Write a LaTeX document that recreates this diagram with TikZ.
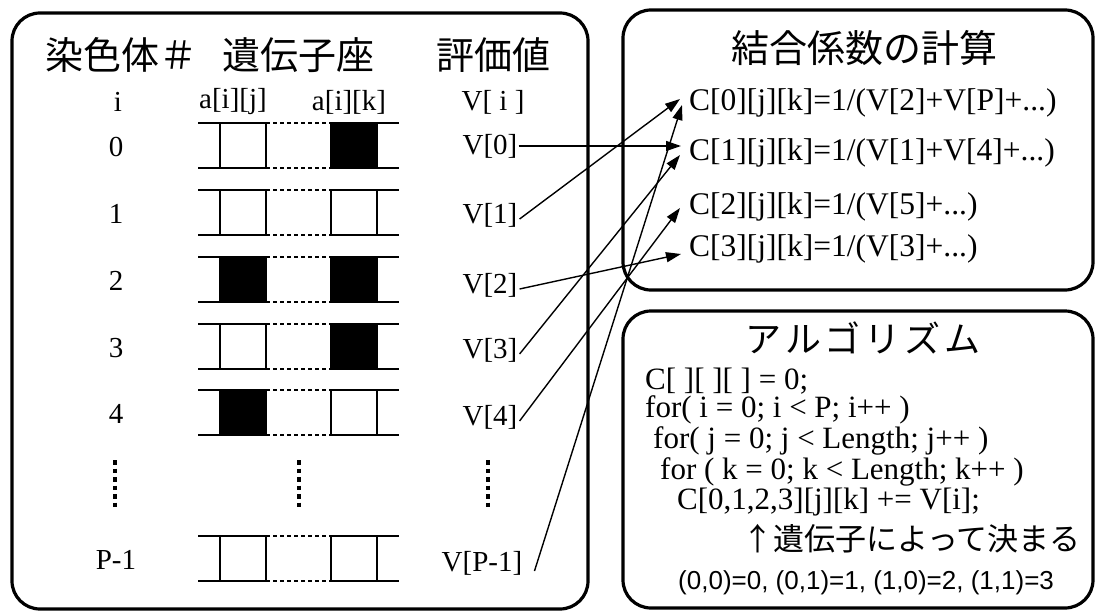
\documentclass[tikz,border=0pt]{standalone}
\usepackage{fontspec}
\setmainfont{Liberation Serif}
\newfontfamily\jp{Noto Sans CJK JP}
\newfontfamily\sansf{Liberation Sans}
\usetikzlibrary{arrows.meta}
\begin{document}
\begin{tikzpicture}[x=1pt,y=-1pt,
  panel/.style={draw, line width=3.2pt, rounded corners=28pt},
  num/.style={inner sep=0pt, font=\fontsize{29}{29}\selectfont},
  ctext/.style={inner sep=0pt, anchor=west, font=\fontsize{31.5}{31.5}\selectfont},
  code/.style={inner sep=0pt, anchor=west, font=\fontsize{31}{31}\selectfont},
  title/.style={inner sep=0pt, font=\jp\fontsize{38}{38}\selectfont},
  rowline/.style={line width=1.6pt},
  dotline/.style={line width=1.6pt, dash pattern=on 4pt off 3pt},
  vdots/.style={line width=4.5pt, dash pattern=on 4.5pt off 4pt},
  arr/.style={line width=1.4pt, -{Triangle[length=15pt,width=10pt]}}
]
\useasboundingbox (0,0) rectangle (1096,613);
% panels
\draw[panel] (12,13) rectangle (588,609);
\draw[panel] (623,10) rectangle (1093,290);
\draw[panel] (623,311) rectangle (1093,608);

% left titles
\node[title, anchor=west] (t1) at (45,55) {染色体＃};
\node[title, anchor=west] (t2) at (222,55) {遺伝子座};
\node[title] (t3) at (493,55) {評価値};

% column labels
\node[num] (hi) at (118,102) {i};
\node[num] (haj) at (233,102) {a[i][j]};
\node[num] (hak) at (349,102) {a[i][k]};
\node[num] (hv) at (493,102) {V[ i ]};

% chromosome rows: y / fill j / fill k / label
\foreach \y/\fj/\fk/\lab in {123/0/1/0, 190/0/0/1, 257/1/1/2, 324/0/1/3, 390/1/0/4, 536/0/0/P-1}{
  \pgfmathsetmacro{\yb}{\y+45}
  \ifnum\fj=1 \fill (220,\y) rectangle (266,\yb); \fi
  \ifnum\fk=1 \fill (331,\y) rectangle (377,\yb); \fi
  \draw[rowline] (198,\y) -- (266,\y) (331,\y) -- (399,\y)
                 (198,\yb) -- (266,\yb) (331,\yb) -- (399,\yb)
                 (220,\y) -- (220,\yb) (266,\y) -- (266,\yb)
                 (331,\y) -- (331,\yb) (377,\y) -- (377,\yb);
  \draw[dotline] (266,\y) -- (331,\y) (266,\yb) -- (331,\yb);
  \node[num] at (116,\y+24) {\lab};
}
% vertical ellipses
\draw[vdots] (115,460) -- (115,510);
\draw[vdots] (299,460) -- (299,510);
\draw[vdots] (488,460) -- (488,510);

% V labels
\node[num] (v0) at (490,146) {V[0]};
\node[num] (v1) at (490,215) {V[1]};
\node[num] (v2) at (490,285) {V[2]};
\node[num] (v3) at (490,350) {V[3]};
\node[num] (v4) at (490,417) {V[4]};
\node[num] (vp) at (482,563) {V[P-1]};

% right top panel
\node[title] (t4) at (864,48) {結合係数の計算};
\node[ctext] (c0) at (689,103) {C[0][j][k]=1/(V[2]+V[P]+...)};
\node[ctext] (c1) at (689,153) {C[1][j][k]=1/(V[1]+V[4]+...)};
\node[ctext] (c2) at (689,207) {C[2][j][k]=1/(V[5]+...)};
\node[ctext] (c3) at (689,249) {C[3][j][k]=1/(V[3]+...)};

% arrows
\coordinate (a0) at (681,146);
\coordinate (a1) at (680,99);
\coordinate (a2) at (681,254);
\coordinate (a3) at (680,155);
\coordinate (a4) at (680,208);
\coordinate (ap) at (682,105);
\draw[arr] ([xshift=1pt]v0.east) -- (a0);
\draw[arr] ([xshift=2pt,yshift=-4pt]v1.east) -- (a1);
\draw[arr] ([xshift=2pt,yshift=-4pt]v2.east) -- (a2);
\draw[arr] ([xshift=2pt,yshift=-4pt]v3.east) -- (a3);
\draw[arr] ([xshift=2pt,yshift=-4pt]v4.east) -- (a4);
\draw[arr] ([xshift=12pt,yshift=-8pt]vp.east) -- (ap);

% right bottom panel
\node[title, font=\jp\fontsize{36}{36}\selectfont] (t5) at (863,338) {ア\hspace{4pt}ル\hspace{4pt}ゴ\hspace{4pt}リ\hspace{4pt}ズ\hspace{4pt}ム};
\node[code] (l1) at (645,381) {C[ ][ ][ ] = 0;};
\node[code] (l2) at (645,410) {for( i = 0; i < P; i++ )};
\node[code] (l3) at (653,441) {for( j = 0; j < Length; j++ )};
\node[code] (l4) at (660,472) {for ( k = 0; k < Length; k++ )};
\node[code] (l5) at (677,502) {C[0,1,2,3][j][k] += V[i];};
\node[inner sep=0pt, anchor=west, font=\jp\fontsize{31}{31}\selectfont] (l6) at (742,539) {↑遺伝子によって決まる};
\node[inner sep=0pt, anchor=west, font=\sansf\fontsize{26}{26}\selectfont] (l7) at (678,583) {(0,0)=0, (0,1)=1, (1,0)=2, (1,1)=3};
\end{tikzpicture}
\end{document}
